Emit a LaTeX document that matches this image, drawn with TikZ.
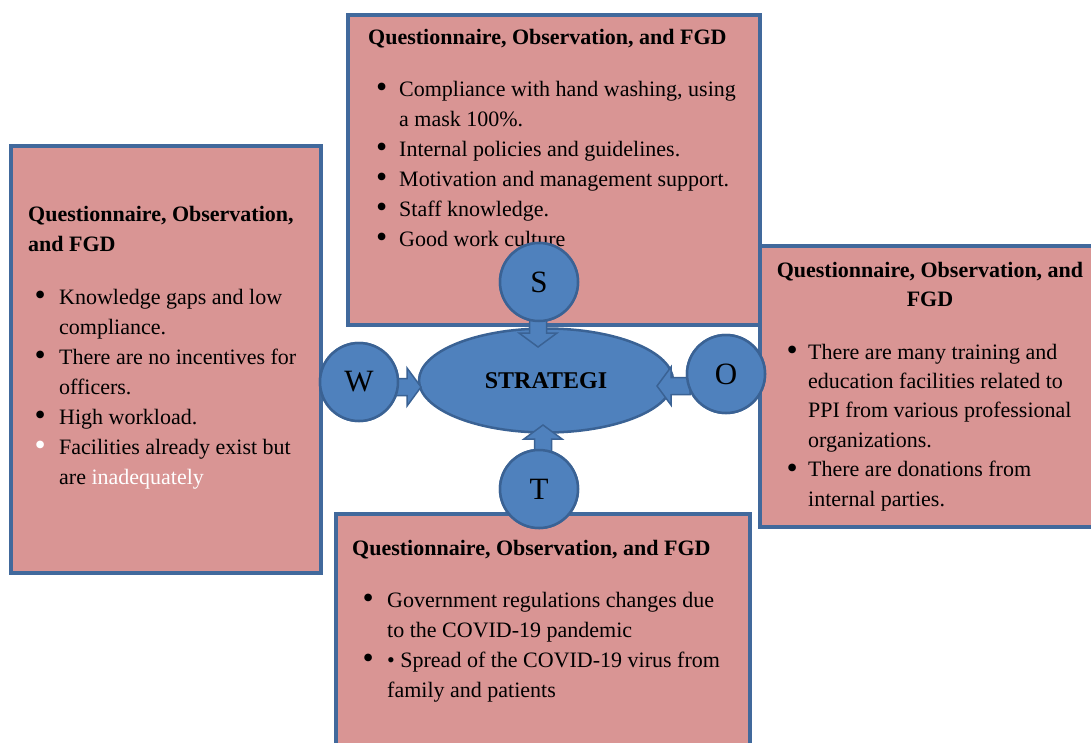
\documentclass[tikz,border=0pt]{standalone}
\usepackage{fontspec}
\setmainfont{Liberation Serif}
\usepackage{array}
\usepackage{graphicx}
\usetikzlibrary{calc,shapes.geometric}
\definecolor{boxfill}{HTML}{D99594}
\definecolor{boxline}{HTML}{41699C}
\definecolor{circfill}{HTML}{4F81BD}
\definecolor{circline}{HTML}{3A6294}
\newcommand{\bigbul}{\raisebox{-0.09em}{\scalebox{1.45}{\textbullet}}}
\begin{document}
\begin{tikzpicture}[x=1pt,y=-1pt,
  swotbox/.style={draw=boxline, line width=3.5pt, fill=boxfill, inner sep=0pt, outer sep=0pt, anchor=north west},
  hdr/.style={font=\fontsize{22}{30}\selectfont\bfseries, inner sep=0pt, anchor=base west},
  lst/.style={font=\fontsize{22}{30}\selectfont, inner sep=0pt, anchor=base west},
  circ/.style={circle, draw=circline, line width=2.5pt, fill=circfill, minimum size=78pt, inner sep=0pt, outer sep=0pt, font=\fontsize{31}{36}\selectfont},
  core/.style={ellipse, draw=circline, line width=2.5pt, fill=circfill, minimum width=254pt, minimum height=104pt, inner sep=0pt, outer sep=0pt, font=\fontsize{24}{28}\selectfont\bfseries},
  barrowstyle/.style={fill=circfill, draw=circline, line width=1.5pt, line join=miter},
  pics/barrow/.style={code={\filldraw[barrowstyle] (0,-8.5) -- (#1-14,-8.5) -- (#1-14,-19) -- (#1,0) -- (#1-14,19) -- (#1-14,8.5) -- (0,8.5) -- cycle;}}
]
\useasboundingbox (0,0) rectangle (1091,742);
\fill[white] (0,0) rectangle (1091,742);
\clip (0,0) rectangle (1091,742);

% boxes
\node[swotbox, minimum width=310pt, minimum height=427pt] (Wbox) at (11,146) {};
\node[swotbox, minimum width=412pt, minimum height=310pt] (Sbox) at (348,15) {};
\node[swotbox, minimum width=340pt, minimum height=281pt] (Obox) at (760,246) {};
\node[swotbox, minimum width=414pt, minimum height=240pt] (Tbox) at (336,514) {};

% top box (S)
\node[hdr] (Shdr) at (368,44) {Questionnaire, Observation, and FGD};
\node[lst] (Slist) at (376,96) {\begin{tabular}[t]{@{}p{23pt}@{}l@{}}
\bigbul & Compliance with hand washing, using\\
 & a mask 100\%.\\
\bigbul & Internal policies and guidelines.\\
\bigbul & Motivation and management support.\\
\bigbul & Staff knowledge.\\
\bigbul & Good work culture
\end{tabular}};

% left box (W)
\node[hdr] (Whdr) at (28,221) {\begin{tabular}[t]{@{}l@{}}Questionnaire, Observation,\\ and FGD\end{tabular}};
\node[lst] (Wlist) at (34.5,304) {\begin{tabular}[t]{@{}p{24.5pt}@{}l@{}}
\bigbul & Knowledge gaps and low\\
 & compliance.\\
\bigbul & There are no incentives for\\
 & officers.\\
\bigbul & High workload.\\
\textcolor{white}{\bigbul} & Facilities already exist but\\
 & are \textcolor{white}{inadequately}
\end{tabular}};

% right box (O)
\node[hdr, anchor=base] (Ohdr) at (930,277) {\fontsize{22}{29}\selectfont\begin{tabular}[t]{@{}c@{}}Questionnaire, Observation, and\\ FGD\end{tabular}};
\node[lst] (Olist) at (786.5,359) {\fontsize{22}{29.4}\selectfont\begin{tabular}[t]{@{}p{21.5pt}@{}l@{}}
\bigbul & There are many training and\\
 & education facilities related to\\
 & PPI from various professional\\
 & organizations.\\
\bigbul & There are donations from\\
 & internal parties.
\end{tabular}};

% bottom box (T)
\node[hdr] (Thdr) at (352,555) {Questionnaire, Observation, and FGD};
\node[lst] (Tlist) at (362.5,607) {\begin{tabular}[t]{@{}p{24.5pt}@{}l@{}}
\bigbul & Government regulations changes due\\
 & to the COVID-19 pandemic\\
\bigbul & \textbullet{} Spread of the COVID-19 virus from\\
 & family and patients
\end{tabular}};

% centre
\node[core] (E) at (546,380.5) {STRATEGI};
\node[circ] (S) at (539,282) {S};
\node[circ] (W) at (359,382) {W};
\node[circ] (O) at (726,374) {O};
\node[circ] (T) at (539,489) {T};

% block arrows
\path ($(S.south)+(-1,-3)$) pic[rotate=-90] {barrow=29};
\path ($(W.east)+(-3,5)$) pic {barrow=26};
\path ($(O.west)+(3,12)$) pic[rotate=180] {barrow=33};
\path ($(T.north)+(4,3)$) pic[rotate=90] {barrow=28};

% redraw circles over arrow tails
\node[circ] at (S) {S};
\node[circ] at (W) {W};
\node[circ] at (O) {O};
\node[circ] at (T) {T};
\end{tikzpicture}
\end{document}
